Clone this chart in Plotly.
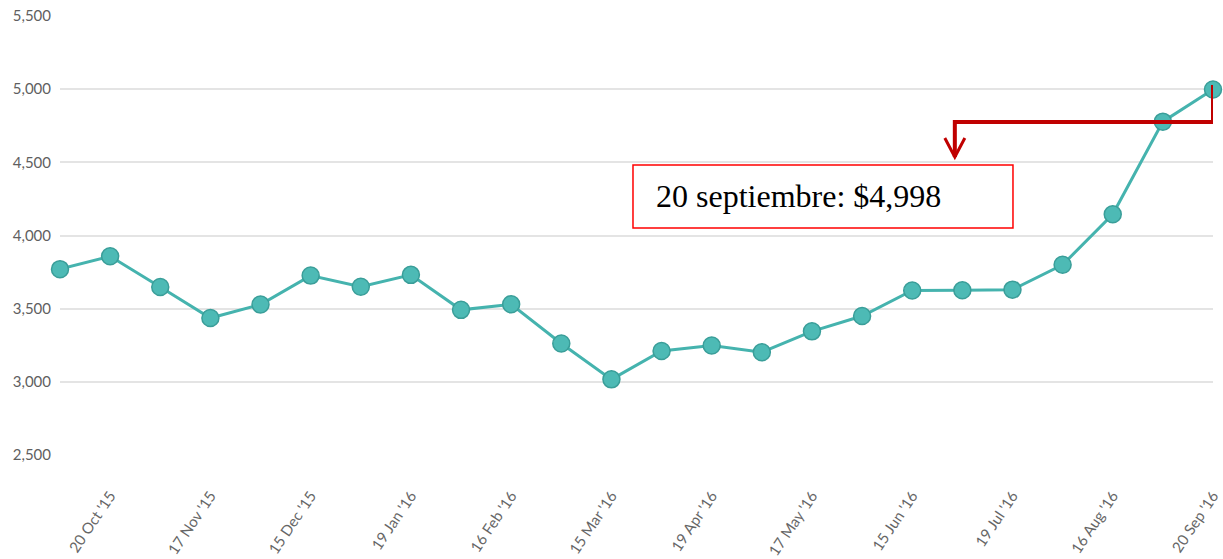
import plotly.graph_objects as go

# Biweekly values (24 points)
values = [3770, 3858, 3648, 3436, 3528, 3726, 3650, 3731, 3492, 3530, 3262, 3017,
          3211, 3248, 3202, 3345, 3450, 3624, 3626, 3630, 3800, 4145, 4778, 4998]

tick_labels = ["20 Oct '15", "17 Nov '15", "15 Dec '15", "19 Jan '16", "16 Feb '16",
               "15 Mar '16", "19 Apr '16", "17 May '16", "15 Jun '16", "19 Jul '16",
               "16 Aug '16", "20 Sep '16"]

y_ticks = [2500, 3000, 3500, 4000, 4500, 5000, 5500]

annotation_text = "20 septiembre: $4,998"

x = list(range(len(values)))
tickvals = list(range(1, len(values), 2))

fig = go.Figure()
fig.add_trace(go.Scatter(
    x=x, y=values, mode="lines+markers",
    line=dict(color="#45b3ae", width=3),
    marker=dict(size=17, color="#4dbab5", line=dict(color="#3a9e99", width=1.5)),
    cliponaxis=False, hoverinfo="skip", showlegend=False,
))

last_x = x[-1]
last_y = values[-1]
elbow_x = 17.85
elbow_y = 4776
tip_y = 4536
arm_y = 4666
arm_dx = 0.2

fig.update_layout(
    width=1223, height=559,
    margin=dict(l=60, r=10, t=16, b=104, autoexpand=False),
    paper_bgcolor="white", plot_bgcolor="white",
    xaxis=dict(
        range=[0, last_x], tickvals=tickvals, ticktext=tick_labels,
        tickangle=-56, showgrid=False, zeroline=False, showline=False,
        ticks="", ticklabelstandoff=28, automargin=False,
        tickfont=dict(family="Lato", size=15, color="#666666"),
    ),
    yaxis=dict(
        range=[2500, 5500], tickvals=y_ticks, tickformat=",d",
        showgrid=True, gridcolor="#e4e4e4", gridwidth=2, zeroline=False,
        showline=False, ticks="", ticklabelstandoff=8, automargin=False,
        tickfont=dict(family="Lato", size=15, color="#5f5f5f"),
    ),
    shapes=[
        dict(type="rect", xref="x", yref="y", x0=11.43, x1=19.01, y0=4051, y1=4482,
             line=dict(color="#ff0000", width=1.5), fillcolor="rgba(0,0,0,0)"),
        dict(type="path", xref="x", yref="y",
             path=f"M {last_x},5028 L {last_x},{elbow_y} L {elbow_x},{elbow_y} L {elbow_x},{tip_y}",
             line=dict(color="#c00000", width=4)),
        dict(type="path", xref="x", yref="y",
             path=f"M {elbow_x-arm_dx},{arm_y} L {elbow_x},{tip_y} L {elbow_x+arm_dx},{arm_y}",
             line=dict(color="#c00000", width=3)),
    ],
    annotations=[
        dict(x=11.85, y=4270, xref="x", yref="y", text=annotation_text,
             showarrow=False, xanchor="left", yanchor="middle",
             font=dict(family="Liberation Serif", size=32, color="black")),
    ],
)

fig.write_html("out.html")
